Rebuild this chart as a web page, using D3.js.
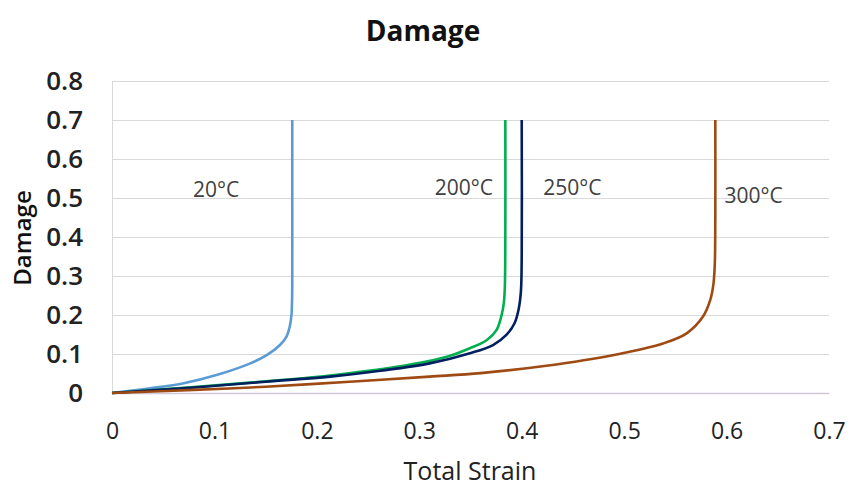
<!DOCTYPE html>
<html>
<head>
<meta charset="utf-8">
<script src="https://cdn.jsdelivr.net/npm/d3@7"></script>
<style>
  body { margin: 0; background: #fff; }
  text { font-family: "Open Sans", sans-serif; }
</style>
</head>
<body>
<svg width="852" height="489"></svg>
<script>
// series: strain (x) vs damage (y)
const strain20 = [0, 0.037, 0.070, 0.102, 0.135, 0.151, 0.164, 0.1705, 0.1735, 0.1752, 0.1758, 0.176, 0.176, 0.176];
const damage20 = [0, 0.012, 0.025, 0.046, 0.076, 0.097, 0.123, 0.145, 0.170, 0.200, 0.240, 0.3, 0.5, 0.7];

const strain200 = [0, 0.08, 0.15, 0.213, 0.278, 0.327, 0.3495, 0.366, 0.3755, 0.380, 0.3825, 0.3835, 0.384, 0.384];
const damage200 = [0, 0.015, 0.030, 0.045, 0.067, 0.093, 0.115, 0.136, 0.162, 0.196, 0.230, 0.270, 0.4, 0.7];

const strain250 = [0, 0.08, 0.15, 0.213, 0.262, 0.310, 0.3495, 0.372, 0.385, 0.393, 0.397, 0.3992, 0.400, 0.400];
const damage250 = [0, 0.014, 0.029, 0.042, 0.057, 0.076, 0.102, 0.123, 0.149, 0.179, 0.215, 0.260, 0.35, 0.7];

const strain300 = [0, 0.08, 0.15, 0.232, 0.31, 0.36, 0.424, 0.489, 0.538, 0.561, 0.577, 0.584, 0.5872, 0.5885, 0.589, 0.589];
const damage300 = [0, 0.008, 0.016, 0.029, 0.042, 0.051, 0.070, 0.097, 0.127, 0.153, 0.196, 0.238, 0.280, 0.330, 0.45, 0.7];

const seriesNames = ['20°C', '200°C', '250°C', '300°C'];
const seriesColors = ['#5b9bd5', '#00b050', '#002060', '#9e4a12'];
// where each curve label sits, in data units (strain, damage)
const labelStrain = [0.079, 0.315, 0.421, 0.598];
const labelDamage = [0.503, 0.508, 0.508, 0.487];

const xTicks = [0, 0.1, 0.2, 0.3, 0.4, 0.5, 0.6, 0.7];
const yTicks = [0, 0.1, 0.2, 0.3, 0.4, 0.5, 0.6, 0.7, 0.8];

const series = [
  strain20.map((s, i) => [s, damage20[i]]),
  strain200.map((s, i) => [s, damage200[i]]),
  strain250.map((s, i) => [s, damage250[i]]),
  strain300.map((s, i) => [s, damage300[i]])
];

const svg = d3.select('svg');
const margin = { left: 112, right: 23, top: 81, bottom: 96 };
const width = 852 - margin.left - margin.right;
const height = 489 - margin.top - margin.bottom;

const x = d3.scaleLinear().domain([0, 0.7]).range([0, width]);
const y = d3.scaleLinear().domain([0, 0.8]).range([height, 0]);
const fmt = d => (d === 0 ? '0' : d3.format('.1f')(d));

const g = svg.append('g')
  .attr('transform', `translate(${margin.left},${margin.top})`);

// gridlines
g.append('g')
  .selectAll('line')
  .data(yTicks.slice(1))
  .enter()
  .append('line')
  .attr('x1', 0)
  .attr('x2', width)
  .attr('y1', d => Math.round(y(d)) + 0.5)
  .attr('y2', d => Math.round(y(d)) + 0.5)
  .attr('stroke', '#d9d9d9')
  .attr('stroke-width', 1);

// y axis
const yAxis = g.append('g')
  .call(d3.axisLeft(y).tickValues(yTicks).tickSize(0).tickPadding(29).tickFormat(fmt));
yAxis.select('.domain').attr('stroke', '#d9d9d9');
yAxis.selectAll('text')
  .style('font-family', '"Open Sans", sans-serif')
  .attr('font-size', 26)
  .attr('font-weight', 600)
  .attr('fill', '#222');

// x axis
const xAxis = g.append('g')
  .attr('transform', `translate(0,${height})`)
  .call(d3.axisBottom(x).tickValues(xTicks).tickSize(0).tickPadding(30).tickFormat(fmt));
xAxis.select('.domain').attr('stroke', '#cfc8d6').attr('stroke-width', 1.5);
xAxis.selectAll('text')
  .style('font-family', '"Open Sans", sans-serif')
  .attr('font-size', 23)
  .attr('fill', '#222');

// curves
const line = d3.line()
  .x(d => x(d[0]))
  .y(d => y(d[1]))
  .curve(d3.curveCatmullRom.alpha(0.5));

g.selectAll('.curve')
  .data(series)
  .enter()
  .append('path')
  .attr('class', 'curve')
  .attr('d', line)
  .attr('fill', 'none')
  .attr('stroke', (d, i) => seriesColors[i])
  .attr('stroke-width', 2.6);

// curve labels
g.selectAll('.lbl')
  .data(seriesNames)
  .enter()
  .append('text')
  .attr('class', 'lbl')
  .attr('x', (d, i) => x(labelStrain[i]))
  .attr('y', (d, i) => y(labelDamage[i]))
  .attr('font-size', 21)
  .attr('fill', '#404040')
  .text(d => d);

// titles
svg.append('text')
  .attr('x', 423)
  .attr('y', 41)
  .attr('text-anchor', 'middle')
  .attr('font-size', 28)
  .attr('font-weight', 700)
  .attr('fill', '#111')
  .text('Damage');

svg.append('text')
  .attr('transform', 'translate(31,238) rotate(-90)')
  .attr('text-anchor', 'middle')
  .attr('font-size', 24)
  .attr('font-weight', 600)
  .attr('fill', '#111')
  .text('Damage');

svg.append('text')
  .attr('x', 470)
  .attr('y', 480)
  .attr('text-anchor', 'middle')
  .attr('font-size', 25)
  .attr('fill', '#222')
  .text('Total Strain');
</script>
</body>
</html>
